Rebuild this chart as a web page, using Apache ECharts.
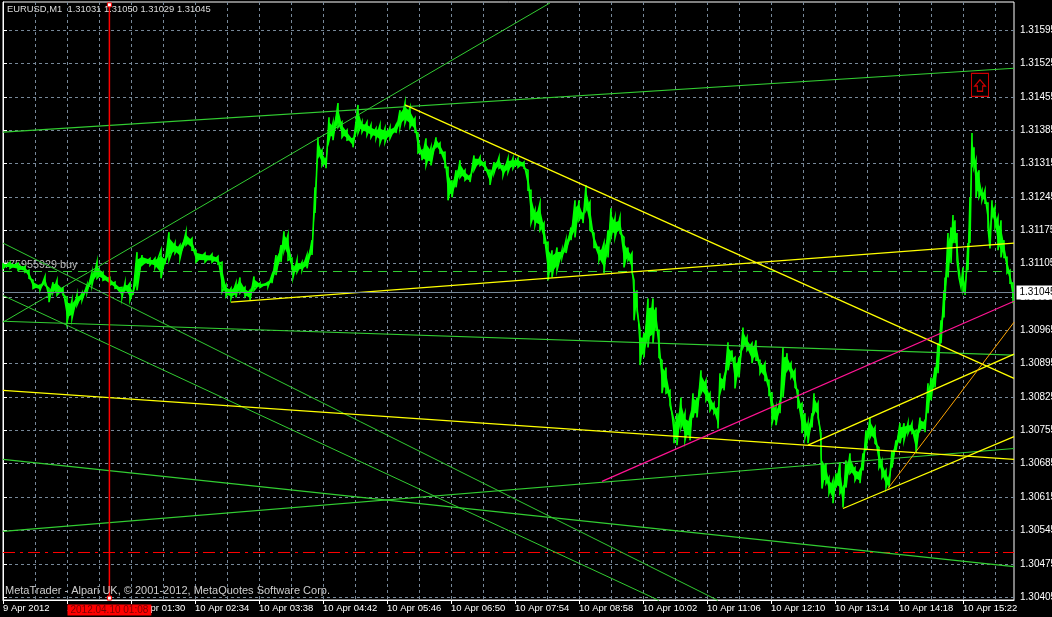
<!DOCTYPE html>
<html><head><meta charset="utf-8">
<style>html,body{margin:0;padding:0;background:#000}#c{width:1052px;height:617px}</style>
<script src="https://cdn.jsdelivr.net/npm/echarts@6/dist/echarts.min.js"></script>
</head><body><div id="c"></div>
<script>
// Price samples (minute index from left edge, bar high and low), in 1e-5 above 1.0
const minutes=[0,7,15,22,26,30,37,42,46,50,54,60,64,69,74,79,84,89,94,100,107,112,119,122,127,130,134,139,147,152,158,162,166,172,177,183,189,193,202,209,215,219,223,228,233,237,242,247,251,257,265,269,273,278,281,285,289,290,294,299,304,309,312,315,319,323,326,330,335,339,344,350,355,359,364,368,373,377,382,387,393,397,402,407,412,415,419,423,428,433,437,442,445,449,453,457,462,467,471,477,482,487,491,496,500,505,510,515,521,525,528,532,537,541,545,549,554,559,563,568,572,576,580,583,587,591,596,601,605,608,612,617,621,625,629,631,634,637,641,645,650,653,656,659,663,667,671,674,678,682,687,690,694,698,703,707,711,715,717,721,725,729,732,736,740,744,749,753,757,762,766,769,773,777,780,784,788,792,795,799,802,805,809,811,815,818,819,823,826,830,833,837,840,843,847,852,857,860,863,867,872,876,879,883,886,889,893,897,901,905,909,913,917,922,925,928,932,935,938,941,942,945,948,950,952,954,956,958,960,962,965,967,969,971,973,976,979,982,985,987,989,992,995,998,1001,1004,1007,1010];
const highs=[31106,31108,31106,31099,31091,31070,31060,31078,31053,31066,31070,31053,31034,31028,31039,31043,31060,31087,31108,31087,31076,31066,31055,31064,31064,31047,31129,31123,31116,31116,31133,31116,31171,31148,31144,31171,31158,31133,31127,31125,31120,31108,31060,31053,31064,31076,31055,31049,31078,31064,31066,31081,31123,31144,31173,31165,31116,31102,31112,31108,31123,31154,31265,31370,31343,31326,31412,31400,31442,31402,31385,31368,31438,31402,31402,31396,31389,31396,31389,31391,31396,31427,31442,31433,31410,31379,31343,31368,31349,31370,31358,31339,31307,31280,31301,31322,31301,31290,31332,31328,31318,31301,31318,31328,31311,31326,31326,31326,31318,31301,31259,31217,31232,31190,31150,31133,31139,31133,31154,31181,31238,31238,31211,31270,31234,31169,31139,31148,31175,31221,31200,31202,31160,31139,31127,31070,31049,30965,30959,31032,31032,31013,30965,30902,30887,30839,30776,30791,30824,30791,30782,30833,30824,30881,30860,30833,30812,30803,30875,30866,30940,30923,30908,30908,30971,30950,30938,30944,30902,30896,30860,30833,30803,30818,30929,30917,30896,30881,30839,30812,30791,30770,30791,30833,30812,30749,30707,30686,30656,30650,30665,30688,30635,30692,30707,30677,30671,30707,30755,30782,30761,30719,30692,30671,30656,30713,30734,30770,30770,30770,30770,30755,30782,30776,30854,30866,30887,30938,30986,31049,31076,31169,31181,31207,31196,31169,31112,31076,31097,31064,31148,31244,31379,31349,31322,31301,31259,31259,31232,31181,31238,31223,31202,31196,31154,31118,31091,31064];
const lows=[31095,31095,31091,31087,31074,31053,31049,31060,31024,31045,31039,31039,30982,30990,31018,31028,31045,31060,31074,31070,31060,31053,31034,31049,31028,31039,31049,31102,31102,31097,31074,31104,31112,31127,31116,31144,31133,31108,31108,31108,31104,31045,31036,31032,31034,31043,31036,31028,31049,31055,31057,31064,31081,31108,31133,31112,31091,31076,31087,31091,31095,31123,31211,31328,31311,31305,31364,31364,31391,31370,31364,31349,31379,31381,31375,31370,31368,31358,31360,31368,31379,31391,31400,31391,31381,31337,31322,31311,31311,31349,31337,31307,31238,31244,31265,31286,31280,31276,31301,31311,31301,31270,31295,31305,31290,31297,31305,31307,31305,31259,31190,31186,31175,31148,31070,31076,31091,31118,31127,31154,31160,31196,31190,31217,31175,31139,31112,31085,31118,31160,31160,31169,31097,31112,31087,30986,31007,30892,30908,30929,30938,30965,30908,30833,30833,30808,30728,30724,30761,30734,30734,30782,30782,30833,30818,30797,30791,30759,30833,30839,30881,30902,30843,30866,30929,30923,30896,30902,30875,30860,30829,30770,30766,30791,30824,30881,30866,30845,30803,30749,30740,30728,30761,30791,30782,30707,30633,30644,30623,30602,30635,30623,30593,30635,30665,30650,30644,30671,30713,30740,30728,30677,30656,30635,30635,30677,30713,30728,30734,30749,30749,30707,30755,30751,30791,30818,30845,30875,30938,30992,31028,31076,31106,31148,31148,31112,31076,31055,31049,31039,31091,31148,31307,31307,31244,31244,31238,31232,31181,31137,31202,31181,31133,31118,31118,31085,31064,31022];
// Axis tick labels
const priceTicks=[1.31595,1.31525,1.31455,1.31385,1.31315,1.31245,1.31175,1.31105,1.31035,1.30965,1.30895,1.30825,1.30755,1.30685,1.30615,1.30545,1.30475,1.30405];
const timeLabels=['9 Apr 2012','10 Apr 00:26','10 Apr 01:30','10 Apr 02:34','10 Apr 03:38','10 Apr 04:42','10 Apr 05:46','10 Apr 06:50','10 Apr 07:54','10 Apr 08:58','10 Apr 10:02','10 Apr 11:06','10 Apr 12:10','10 Apr 13:14','10 Apr 14:18','10 Apr 15:22'];
const timeTicks=[0,64,128,192,256,320,384,448,512,576,640,704,768,832,896,960];
const gridTicks=[0,32,64,96,128,160,192,224,256,288,320,352,384,416,448,480,512,544,576,608,640,672,704,736,768,800,832,864,896,928,960,992];
// Trend lines: [minute, price, minute, price] in the same 1e-5 units
const greenThick=[0,31381,1011,31515];
const greenRise=[0,30982,547,31652];
const greenFlat=[0,30984,1011,30913];
const greenUp=[0,30543,1011,30717];
const greenDown=[0,30694,1011,30469];
const diagA=[0,31148,715,30398];
const diagB=[0,31038,656,30398];
const yellowFall=[402,31438,1011,30864];
const yellowRise=[228,31024,1011,31148];
const yellowLong=[0,30839,1011,30694];
const chanUpper=[805,30724,1011,30915];
const chanLower=[840,30591,1011,30742];
const pinkLine=[599,30648,1011,31026];
const orangeLine=[885,30633,1011,30982];
const orderLevel=31088.4, stopLevel=30498.7, bidLevel=31044.3, bidText='1.31045', cursorMinute=106.4, arrowMinute=977, arrowPrice=31480;
const axisMin=1.30399, axisMax=1.31654;
const px=v=>1+v/1e5;
const FONT='"Liberation Sans"';

const pricePts=[];
minutes.forEach((m,i)=>{pricePts.push([m,px(highs[i])]);pricePts.push([m,px(lows[i])]);});
const seg=(a,color,width,z)=>({type:'line',clip:false,data:[[a[0],px(a[1])],[a[2],px(a[3])]],symbol:'none',silent:true,animation:false,z:z||5,
  lineStyle:{color,width}});
const hline=(lv,color,type)=>({type:'line',clip:false,data:[[0,px(lv)],[1011,px(lv)]],symbol:'none',silent:true,animation:false,z:4,
  lineStyle:{color,width:1,type}});
// Filled body between highs and lows, drawn through the axes
const band={type:'custom',clip:false,silent:true,animation:false,z:3,data:[[0,1.31]],encode:{x:0,y:1},
 renderItem:(p,api)=>{
  const top=[],bot=[];
  minutes.forEach((m,i)=>{
   const r=(highs[i]-lows[i])*0.2;
   top.push(api.coord([m,px(highs[i]-r)]));
   bot.unshift(api.coord([m,px(lows[i]+r)]));
  });
  return {type:'polygon',shape:{points:top.concat(bot)},style:{fill:'#00ff00',stroke:null}};
 }};

const series=[
 hline(orderLevel,'#32cd32',[9,6]),
 hline(stopLevel,'#ff0000',[12,5,3,5]),
 band,
 {type:'line',clip:false,data:pricePts,symbol:'none',silent:true,animation:false,z:3,lineStyle:{color:'#00ff00',width:1.6,join:'miter'}},
 seg(greenThick,'#32cd32',1.2),seg(greenRise,'#32cd32',1),seg(greenFlat,'#32cd32',1.2),seg(greenUp,'#32cd32',1.2),seg(greenDown,'#32cd32',1.2),
 seg(diagA,'#32cd32',1),seg(diagB,'#32cd32',1),
 seg(yellowFall,'#ffff00',1.3),seg(yellowRise,'#ffff00',1.3),seg(yellowLong,'#ffff00',1.3),seg(chanUpper,'#ffff00',1.3),seg(chanLower,'#ffff00',1.3),
 seg(pinkLine,'#ff1493',1.2),seg(orangeLine,'#ffa500',1),
 {type:'line',clip:false,silent:true,animation:false,z:6,symbol:'circle',symbolSize:1,showSymbol:true,itemStyle:{color:'#778899'},lineStyle:{color:'#778899',width:1},
  data:[[0,px(bidLevel)],{value:[1011,px(bidLevel)],label:{show:true,position:'right',distance:2,formatter:bidText,backgroundColor:'#fff',color:'#000',fontFamily:FONT,fontSize:10,padding:[2,3,2,3],width:36,align:'left'}}]},
 {type:'line',clip:false,animation:false,silent:true,z:12,lineStyle:{width:1.5,color:'#ff0000',type:'solid'},symbol:'rect',symbolSize:4,itemStyle:{color:'#fff',borderColor:'#ff0000',borderWidth:1},
  data:[{value:[cursorMinute,axisMax-0.00006]},{value:[cursorMinute,axisMin+0.00004],label:{show:true,position:'bottom',distance:4,formatter:'2012.04.10 01:08',backgroundColor:'#ff0000',color:'#7a0000',fontFamily:FONT,fontSize:10,padding:[1,3,0,3]}}]},
 {type:'scatter',clip:false,data:[[arrowMinute,px(arrowPrice)]],silent:true,animation:false,z:8,
  symbol:'path://M0 0H16V22H0Z M8 6L13 12H10.5V17H5.5V12H3Z',symbolSize:[17,23],itemStyle:{color:'rgba(0,0,0,0)',borderColor:'#ff0000',borderWidth:1.2}}
];
const chart=echarts.init(document.getElementById('c'),null,{renderer:'canvas'});
chart.setOption({
 backgroundColor:'#000',animation:false,
 grid:{left:3,right:38,top:2,bottom:17,show:true,borderColor:'#fff',borderWidth:1,backgroundColor:'#000',containLabel:false,outerBoundsMode:'none'},
 xAxis:[
  {type:'value',min:0,max:1011,position:'bottom',axisLine:{show:true,lineStyle:{color:'#fff'}},
   axisTick:{show:true,length:4,customValues:timeTicks,lineStyle:{color:'#fff'}},splitLine:{show:false},
   axisLabel:{show:true,customValues:timeTicks,color:'#fff',fontFamily:FONT,fontSize:9.5,align:'left',margin:3,showMinLabel:true,showMaxLabel:true,hideOverlap:false,
    formatter:v=>timeLabels[timeTicks.indexOf(v)]||''}},
  {type:'value',min:0,max:1011,position:'bottom',axisLine:{show:false},axisLabel:{show:false},
   axisTick:{show:false,customValues:gridTicks},splitLine:{show:true,lineStyle:{color:'#778899',width:1,type:[3,3]}}}
 ],
 yAxis:{type:'value',min:axisMin,max:axisMax,position:'right',scale:true,axisLine:{show:true,lineStyle:{color:'#fff'}},
  axisTick:{show:true,length:4,customValues:priceTicks,lineStyle:{color:'#fff'}},
  splitLine:{show:true,lineStyle:{color:'#778899',width:1,type:[3,3]}},
  axisLabel:{show:true,customValues:priceTicks,color:'#fff',fontFamily:FONT,fontSize:10,margin:6,hideOverlap:false,formatter:v=>v.toFixed(5)}},
 graphic:[
  {type:'text',left:7,top:5,z:20,style:{text:'EURUSD,M1  1.31031 1.31050 1.31029 1.31045',fill:'#ddd',font:'9.4px '+FONT}},
  {type:'text',left:5,top:585,z:20,style:{text:'MetaTrader - Alpari UK, © 2001-2012, MetaQuotes Software Corp.',fill:'#ccc',font:'11px '+FONT}},
  {type:'text',left:3,top:260,z:2,style:{text:'#75955929 buy',fill:'#bbb',font:'10.8px '+FONT}}
 ],
 series
});
</script></body></html>
